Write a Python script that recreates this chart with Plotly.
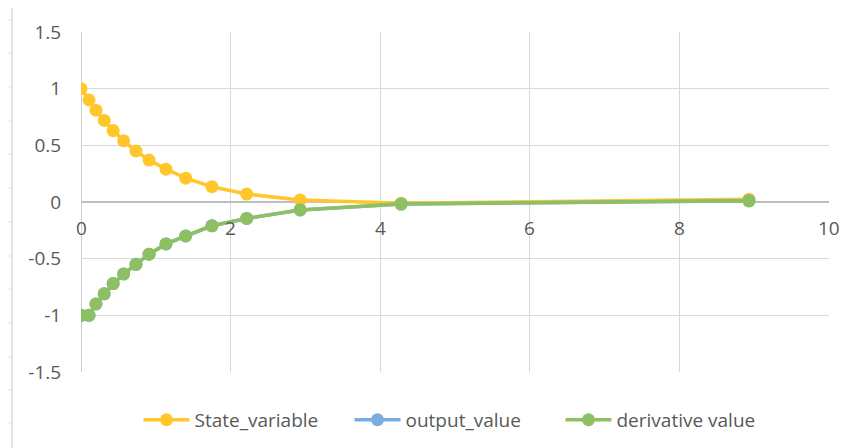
import plotly.graph_objects as go

# Data
x_values = [0, 0.107, 0.2, 0.31, 0.43, 0.57, 0.735, 0.91, 1.136, 1.40, 1.75, 2.215, 2.93, 4.28, 8.93]
state_variable = [1.0, 0.90, 0.81, 0.72, 0.63, 0.54, 0.45, 0.37, 0.29, 0.21, 0.135, 0.07, 0.018, -0.01, 0.025]
output_value = [-1.0, -1.0, -0.90, -0.81, -0.72, -0.635, -0.55, -0.46, -0.37, -0.30, -0.21, -0.145, -0.07, -0.018, 0.01]
derivative_value = [-1.0, -1.0, -0.90, -0.81, -0.72, -0.635, -0.55, -0.46, -0.37, -0.30, -0.21, -0.145, -0.07, -0.018, 0.01]

x_ticks = [0, 2, 4, 6, 8, 10]
x_tick_labels = ["0", "2", "4", "6", "8", "10"]
y_ticks = [-1.5, -1, -0.5, 0, 0.5, 1, 1.5]
y_tick_labels = ["-1.5", "-1", "-0.5", "0", "0.5", "1", "1.5"]

YELLOW = "#FFC72C"
BLUE = "#7AAEDD"
GREEN = "#8CC063"
TEXT = "#595959"
FONT = "Open Sans"
FS = 19

fig = go.Figure()
for name, ys, col in [("State_variable", state_variable, YELLOW),
                      ("output_value", output_value, BLUE),
                      ("derivative value", derivative_value, GREEN)]:
    fig.add_trace(go.Scatter(
        x=x_values, y=ys, name=name, mode="lines+markers",
        line=dict(color=col, width=3.5),
        marker=dict(color=col, size=13),
    ))

# x tick labels placed next to the horizontal axis (which crosses at y=0)
annotations = [dict(x=v, y=0, xref="x", yref="y", text=t, showarrow=False,
                    yshift=-26, font=dict(family=FONT, size=FS, color=TEXT))
               for v, t in zip(x_ticks, x_tick_labels)]

# spreadsheet row border at the far left
shapes = [dict(type="line", xref="paper", yref="paper", x0=-0.0922, x1=-0.0922,
               y0=-0.25, y1=1.07, line=dict(color="#E3E3E3", width=2))]
for py in [20, 53, 87, 121, 154, 188, 222, 256, 289, 323, 357, 390, 423]:
    yp = (372 - py) / 340
    shapes.append(dict(type="line", xref="paper", yref="paper", x0=-0.1016, x1=-0.0922,
                       y0=yp, y1=yp, line=dict(color="#E3E3E3", width=1)))
shapes.append(dict(type="line", xref="x", yref="paper", x0=0, x1=0, y0=0, y1=1,
                   line=dict(color="#BFBFBF", width=1.5), layer="below"))

fig.update_layout(
    width=854, height=448,
    margin=dict(l=73, r=33, t=24, b=84, autoexpand=False),
    paper_bgcolor="white", plot_bgcolor="white",
    font=dict(family=FONT, size=FS, color=TEXT),
    showlegend=True,
    legend=dict(orientation="h", x=0.5, xanchor="center", y=-0.085, yanchor="top",
                font=dict(family=FONT, size=FS, color=TEXT), itemwidth=46,
                entrywidth=150, entrywidthmode="pixels",
                traceorder="normal"),
    xaxis=dict(range=[0, 10], tickvals=x_ticks, showticklabels=False,
               showgrid=True, gridcolor="#D9D9D9", gridwidth=1,
               zeroline=False, showline=False, fixedrange=True),
    yaxis=dict(range=[-1.5, 1.5], tickvals=y_ticks, ticktext=y_tick_labels,
               showgrid=True, gridcolor="#D9D9D9", gridwidth=1,
               zeroline=True, zerolinecolor="#BFBFBF", zerolinewidth=1.5,
               showline=False, ticks="outside", ticklen=15, tickcolor="rgba(0,0,0,0)",
               tickfont=dict(family=FONT, size=FS, color=TEXT), fixedrange=True),
    shapes=shapes,
    annotations=annotations,
)

fig.write_html("out.html")
